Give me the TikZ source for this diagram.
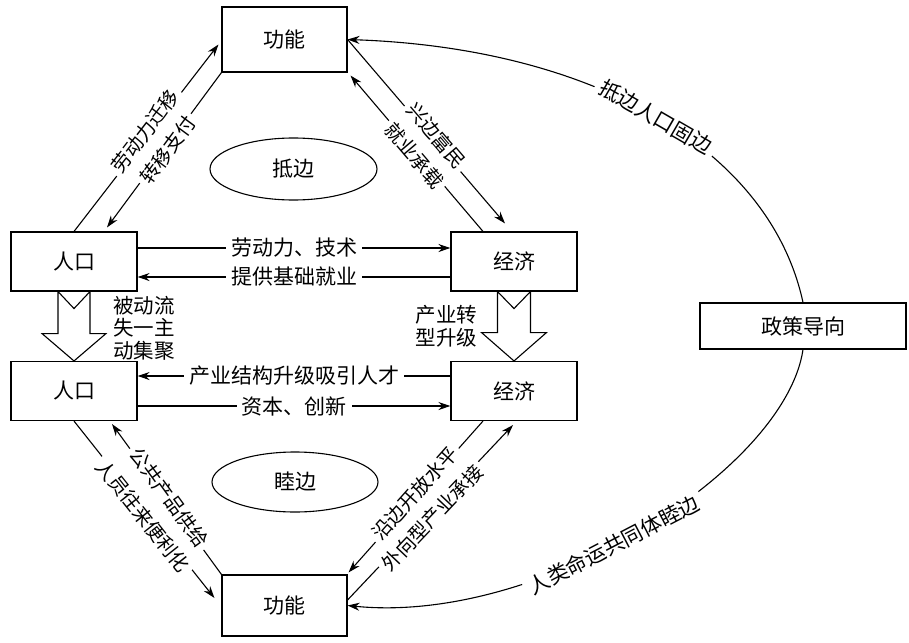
\documentclass[tikz,border=0pt]{standalone}
\usepackage{fontspec}
\newfontfamily\cjk{Noto Sans CJK SC}
\usetikzlibrary{arrows.meta,calc,shapes.geometric}
\begin{document}
\begin{tikzpicture}[x=1pt,y=1pt,
  every node/.style={font=\cjk\fontsize{21}{25}\selectfont},
  box/.style={draw,line width=1.1pt,inner sep=0pt},
  arr/.style={draw,line width=1.1pt,-{Stealth[length=12pt,width=8pt]}},
  lab/.style={fill=white,inner xsep=5pt,inner ysep=0.5pt},
  dlab/.style={lab,sloped,font=\cjk\fontsize{19.5}{24}\selectfont,inner xsep=4pt,inner ysep=-1pt},
  clab/.style={lab,sloped},
  bigarr/.style={draw,line width=1.1pt,fill=white,line join=miter},
  small/.style={font=\cjk\fontsize{20.5}{22.5}\selectfont,inner sep=0pt}]
\useasboundingbox (0,0) rectangle (909,-642);

% boxes
\node[box,minimum width=125pt,minimum height=65pt] (gn1) at (284.5,-39.5) {功能};
\node[box,minimum width=126pt,minimum height=59pt] (rk1) at (74,-261.5) {人口};
\node[box,minimum width=126pt,minimum height=59pt] (jj1) at (514,-261.5) {经济};
\node[box,minimum width=126pt,minimum height=59pt] (rk2) at (74,-391) {人口};
\node[box,minimum width=126pt,minimum height=59pt] (jj2) at (514,-391) {经济};
\node[box,minimum width=125pt,minimum height=61pt] (gn2) at (284.5,-605.5) {功能};
\node[box,minimum width=206pt,minimum height=46pt] (pz) at (803,-326) {政策导向};

% ellipses
\node[draw,ellipse,line width=1.1pt,minimum width=167pt,minimum height=62pt,inner sep=0pt] (db) at (293.5,-169) {抵边};
\node[draw,ellipse,line width=1.1pt,minimum width=166pt,minimum height=60pt,inner sep=0pt] (mb) at (295,-482) {睦边};

% big hollow arrows
\draw[bigarr] ($(rk1.south)+(-16,0)$) -- ($(rk1.south)+(-16,-42)$) -- ($(rk1.south)+(-32,-42)$)
  -- (rk2.north) -- ($(rk1.south)+(32,-42)$) -- ($(rk1.south)+(16,-42)$)
  -- ($(rk1.south)+(16,0)$) -- ($(rk1.south)+(0,-17)$) -- cycle;
\draw[bigarr] ($(jj1.south)+(-16.5,0)$) -- ($(jj1.south)+(-16.5,-41)$) -- ($(jj1.south)+(-32.5,-41)$)
  -- (jj2.north) -- ($(jj1.south)+(32.5,-41)$) -- ($(jj1.south)+(16.5,-41)$)
  -- ($(jj1.south)+(16.5,0)$) -- ($(jj1.south)+(0,-17)$) -- cycle;

\node[small,align=left,anchor=west] (bd) at (113,-328) {被动流\\失一主\\动集聚};
\node[small,align=center] (cy) at (446.5,-326) {产业转\\型升级};

% horizontal arrows
\draw[arr] ([yshift=13.5pt]rk1.east) -- node[lab]{劳动力、技术} ([yshift=13.5pt]jj1.west);
\draw[arr] ([yshift=-15.5pt]jj1.west) -- node[lab]{提供基础就业} ([yshift=-15.5pt]rk1.east);
\draw[arr] ([yshift=15pt]jj2.west) -- node[lab]{产业结构升级吸引人才} ([yshift=15pt]rk2.east);
\draw[arr] ([yshift=-15pt]rk2.east) -- node[lab]{资本、创新} ([yshift=-15pt]jj2.west);

% diagonal arrows
\draw[arr] (rk1.north) -- node[dlab,pos=0.52,yshift=5pt]{劳动力迁移} ($(gn1.west)+(-3,-5)$);
\draw[arr] (gn1.south west) -- node[dlab,pos=0.49,yshift=-3pt]{转移支付} ($(rk1.north)+(33,4)$);
\draw[arr] (gn1.east) -- node[dlab,pos=0.54,yshift=5pt]{兴边富民} ($(jj1.north)+(-9,8)$);
\draw[arr] ($(jj1.north)+(-31,0)$) -- node[dlab,pos=0.5,yshift=-3pt]{就业承载} ($(gn1.south east)+(3,-3)$);
\draw[arr] (rk2.south) -- node[dlab,pos=0.52,yshift=-5pt]{人员往来便利化} ($(gn2.west)+(-7,7.5)$);
\draw[arr] (gn2.north west) -- node[dlab,pos=0.5,yshift=3pt]{公共产品供给} ($(rk2.south)+(38,-3)$);
\draw[arr] ($(jj2.south)+(-31,0)$) -- node[dlab,pos=0.49,yshift=3pt]{沿边开放水平} ($(gn2.north east)+(1,2)$);
\draw[arr] ($(gn2.east)+(0,5.5)$) -- node[dlab,pos=0.49,yshift=-5pt]{外向型产业承接} ($(jj2.south)+(-1,-4)$);

% policy curves
\draw[arr] (pz.north) .. controls (770,-150) and (595,-48) .. (gn1.east)
  node[clab,pos=0.5]{抵边人口固边};
\draw[arr] (pz.south) .. controls (785,-470) and (540,-625) .. (gn2.east)
  node[clab,pos=0.55]{人类命运共同体睦边};
\end{tikzpicture}
\end{document}
